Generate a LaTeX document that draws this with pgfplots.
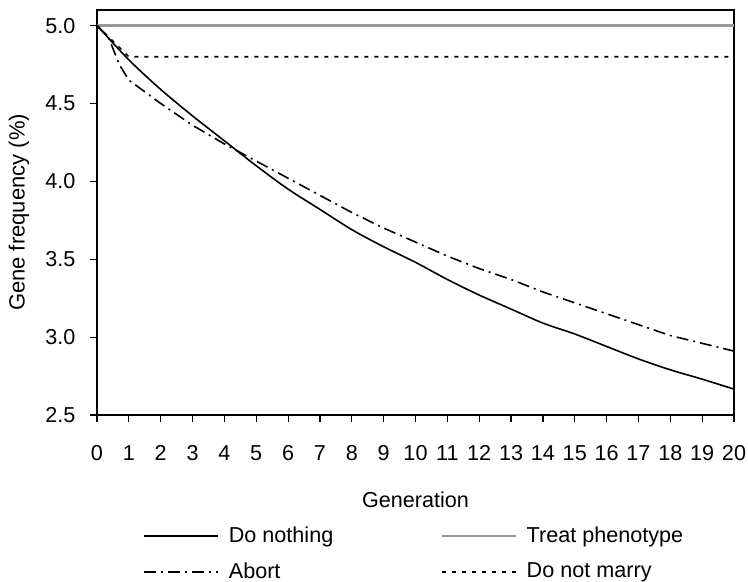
\documentclass[border=0pt]{standalone}
\usepackage{fontspec}
\setmainfont{Liberation Sans}
\usepackage{pgfplots}
\pgfplotsset{compat=1.18}
\begin{document}
\fontsize{10.8pt}{13pt}\selectfont
\begin{tikzpicture}
\begin{axis}[
  scale only axis,
  width=318.5pt, height=202.5pt,
  xmin=0, xmax=20, ymin=2.5, ymax=5.1,
  xtick={0,1,...,20},
  ytick={2.5,3.0,3.5,4.0,4.5,5.0},
  yticklabel style={xshift=-3.5pt, /pgf/number format/.cd,fixed,fixed zerofill,precision=1},
  xticklabel style={yshift=-8pt},
  /pgf/number format/assume math mode=true,
  tick align=outside,
  major tick length=3.5pt,
  tick style={black, line width=0.6pt},
  xtick pos=bottom, ytick pos=left,
  axis line style={line width=1.1pt},
  xlabel={Generation},
  ylabel={Gene frequency (\%)},
  xlabel style={at={(axis description cs:0.5,-0.21)}, anchor=center},
  ylabel style={at={(axis description cs:-0.1225,0.5)}, anchor=center, font=\fontsize{11pt}{13pt}\selectfont},
  legend columns=2,
  legend cell align=left,
  legend style={draw=none, fill=none, at={(axis description cs:0.072,-0.265)}, anchor=north west,
    /tikz/every odd column/.append style={column sep=3pt},
    /tikz/every even column/.append style={column sep=51.5pt},
    row sep=4.5pt, inner sep=0pt},
  legend image code/.code={\draw[#1] (0pt,0pt) -- (37pt,0pt);},
]
\addplot[black, line width=0.8pt, smooth] coordinates {
(0,5.0) (1,4.78) (2,4.59) (3,4.42) (4,4.26) (5,4.10) (6,3.95) (7,3.82) (8,3.69) (9,3.58) (10,3.48)
(11,3.37) (12,3.27) (13,3.18) (14,3.09) (15,3.02) (16,2.94) (17,2.86) (18,2.79) (19,2.73) (20,2.666)};
\addlegendentry{Do nothing}
\addplot[black!40, line width=1.2pt] coordinates {(0,5.0) (20,5.0)};
\addlegendentry{Treat phenotype}
\addplot[black, line width=0.8pt, dash pattern=on 6pt off 2.5pt on 1pt off 2.5pt] coordinates {
(0,5.0) (0.35,4.93) (0.7,4.75) (1,4.65) (2,4.50) (3,4.36) (4,4.24) (5,4.13) (6,4.02) (7,3.91) (8,3.80) (9,3.70) (10,3.61)
(11,3.52) (12,3.44) (13,3.37) (14,3.29) (15,3.22) (16,3.15) (17,3.08) (18,3.01) (19,2.96) (20,2.91)};
\addlegendentry{Abort}
\addplot[black, line width=0.8pt, dash pattern=on 2pt off 3pt] coordinates {(0,5.0) (1,4.8) (20,4.8)};
\addlegendentry{Do not marry}
\end{axis}
\pgfresetboundingbox
\path[use as bounding box] ([xshift=-48.5pt,yshift=-83.5pt]current axis.south west) rectangle ([xshift=7pt,yshift=5pt]current axis.north east);
\end{tikzpicture}
\end{document}
